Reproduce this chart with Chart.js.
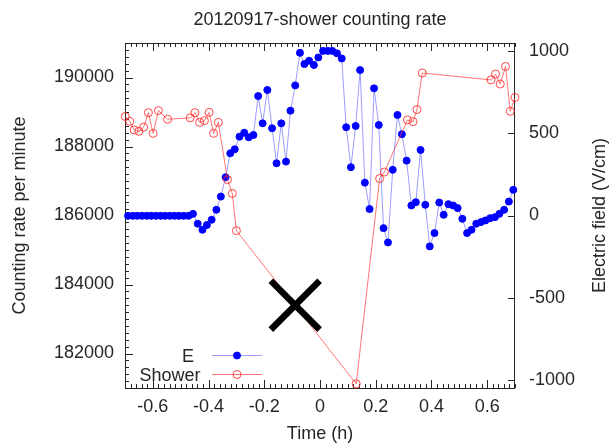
<!DOCTYPE html>
<html>
<head>
<meta charset="utf-8">
<script src="https://cdn.jsdelivr.net/npm/chart.js@4/dist/chart.umd.min.js"></script>
<style>
  html, body { margin: 0; padding: 0; background: #fff; }
  #wrap { width: 612px; height: 444px; }
</style>
</head>
<body>
<div id="wrap"><canvas id="chart" width="612" height="444"></canvas></div>
<script>
var chartTitle = "20120917-shower counting rate";
var xTitle = "Time (h)";
var countTitle = "Counting rate per minute";
var fieldTitle = "Electric field (V/cm)";

var xTicks = [-0.6, -0.4, -0.2, 0, 0.2, 0.4, 0.6];
var countTicks = [182000, 184000, 186000, 188000, 190000];
var fieldTicks = [-1000, -500, 0, 500, 1000];

// E: one sample per minute (h), field in V/cm
var eTime = [-0.689, -0.672, -0.656, -0.639, -0.622, -0.606, -0.589, -0.572, -0.556, -0.539,
             -0.522, -0.506, -0.489, -0.472, -0.456, -0.439, -0.422, -0.406, -0.389, -0.372,
             -0.356, -0.339, -0.322, -0.306, -0.289, -0.272, -0.256, -0.239, -0.222, -0.206,
             -0.189, -0.172, -0.156, -0.139, -0.122, -0.106, -0.089, -0.072, -0.056, -0.039,
             -0.022, -0.006, 0.011, 0.028, 0.044, 0.061, 0.078, 0.094, 0.111, 0.128,
             0.144, 0.161, 0.178, 0.194, 0.211, 0.228, 0.244, 0.261, 0.278, 0.294,
             0.311, 0.328, 0.344, 0.361, 0.378, 0.394, 0.411, 0.428, 0.444, 0.461,
             0.478, 0.494, 0.511, 0.528, 0.544, 0.561, 0.578, 0.594, 0.611, 0.628,
             0.644, 0.661, 0.678, 0.694];
var eField = [-2, -2, -2, -2, -2, -2, -2, -2, -2, -2,
              -2, -2, -2, -2, 10, -50, -87, -58, -26, 35,
              115, 233, 379, 403, 480, 504, 476, 490, 727, 561,
              764, 531, 318, 561, 328, 638, 792, 990, 922, 942,
              916, 962, 1002, 1002, 1002, 987, 956, 537, 294, 545,
              885, 200, 39, 774, 551, -77, -164, 278, 612, 495,
              334, 61, 81, 399, 65, -188, -107, 79, 4, 69,
              61, 45, -20, -107, -87, -50, -40, -30, -16, -10,
              10, 35, 85, 156];

// Shower counting rate per minute
var showerTime = [-0.699, -0.683, -0.667, -0.650, -0.633, -0.616, -0.599, -0.580, -0.547, -0.466,
                  -0.449, -0.432, -0.415, -0.398, -0.382, -0.365, -0.332, -0.315, -0.300, 0.130,
                  0.214, 0.231, 0.314, 0.334, 0.348, 0.367, 0.614, 0.630, 0.647, 0.666,
                  0.683, 0.700];
var showerCount = [188870, 188730, 188480, 188440, 188560, 188980, 188380, 189040, 188790, 188830,
                   188980, 188700, 188750, 188990, 188380, 188700, 187040, 186640, 185560, 181120,
                   187070, 187260, 188770, 188720, 189070, 190130, 189930, 190100, 189810, 190320,
                   189020, 189420];

// big black cross on the plot
var markTime = [-0.089];
var markCount = [183400];

var FONT = "'Liberation Sans', Arial, Helvetica, sans-serif";
var INK = "#262626";

function points(xs, ys) {
    return xs.map(function (x, i) { return { x: x, y: ys[i] }; });
}

function fixTicks(values) {
    return function (scale) {
        scale.ticks = values.map(function (v) { return { value: v }; });
    };
}

var framePlugin = {
    id: "frame",
    beforeDatasetsDraw: function (chart) {
        var ctx = chart.ctx, a = chart.chartArea;
        var sx = chart.scales.x, sl = chart.scales.count, sr = chart.scales.field;
        ctx.save();
        ctx.strokeStyle = INK;
        ctx.lineWidth = 1;
        ctx.beginPath();
        var k, p, len;
        for (k = -35; k <= 35; k++) {
            p = Math.round(sx.getPixelForValue(k / 50)) + 0.5;
            len = (k % 10 === 0) ? 8 : 4;
            ctx.moveTo(p, a.bottom); ctx.lineTo(p, a.bottom - len);
            ctx.moveTo(p, a.top); ctx.lineTo(p, a.top + len);
        }
        for (k = 181000; k <= 191000; k += 200) {
            p = Math.round(sl.getPixelForValue(k)) + 0.5;
            len = (k % 2000 === 0) ? 8 : 4;
            ctx.moveTo(a.left, p); ctx.lineTo(a.left + len, p);
        }
        fieldTicks.forEach(function (v) {
            p = Math.round(sr.getPixelForValue(v)) + 0.5;
            ctx.moveTo(a.right, p); ctx.lineTo(a.right - 7, p);
        });
        ctx.stroke();
        ctx.strokeRect(a.left + 0.5, a.top + 0.5, a.right - a.left - 1, a.bottom - a.top);
        ctx.restore();
    },
    afterDatasetsDraw: function (chart) {
        var ctx = chart.ctx, a = chart.chartArea;
        var ds = chart.data.datasets;
        ctx.save();
        ctx.fillStyle = INK;
        ctx.font = "18px " + FONT;
        ctx.textBaseline = "alphabetic";

        ctx.textAlign = "center";
        ctx.fillText(chartTitle, (a.left + a.right) / 2, 25);
        ctx.fillText(xTitle, (a.left + a.right) / 2, 439);

        ctx.save();
        ctx.translate(24.5, (a.top + a.bottom) / 2);
        ctx.rotate(-Math.PI / 2);
        ctx.fillText(countTitle, 0, 0);
        ctx.restore();

        ctx.save();
        ctx.translate(604.5, (a.top + a.bottom) / 2);
        ctx.rotate(-Math.PI / 2);
        ctx.fillText(fieldTitle, 0, 0);
        ctx.restore();

        // key, bottom left inside the frame
        ctx.textAlign = "right";
        ctx.fillText("E", 194, 361.5);
        ctx.fillText("Shower", 200.5, 380.5);

        var rows = [[ds[1], 355], [ds[0], 374]];
        rows.forEach(function (r) {
            var d = r[0], y = r[1] + 0.5;
            ctx.strokeStyle = d.borderColor;
            ctx.lineWidth = d.borderWidth;
            ctx.beginPath();
            ctx.moveTo(212, y); ctx.lineTo(262, y);
            ctx.stroke();
            ctx.beginPath();
            ctx.arc(237, y, d.pointRadius, 0, Math.PI * 2);
            ctx.fillStyle = d.pointBackgroundColor;
            ctx.fill();
            ctx.strokeStyle = d.pointBorderColor;
            ctx.lineWidth = d.pointBorderWidth;
            ctx.stroke();
        });
        ctx.restore();
    }
};

new Chart(document.getElementById("chart"), {
    type: "scatter",
    data: {
        datasets: [
            {
                label: "Shower",
                data: points(showerTime, showerCount),
                yAxisID: "count",
                showLine: true,
                borderColor: "rgba(255,60,60,0.7)",
                borderWidth: 1,
                pointRadius: 4,
                pointBackgroundColor: "rgba(255,255,255,0)",
                pointBorderColor: "rgba(255,40,40,0.85)",
                pointBorderWidth: 1,
                clip: false,
                order: 1
            },
            {
                label: "E",
                data: points(eTime, eField),
                yAxisID: "field",
                showLine: true,
                borderColor: "rgba(90,90,255,0.6)",
                borderWidth: 1,
                pointRadius: 3.5,
                pointBackgroundColor: "#0000ff",
                pointBorderColor: "#0000ff",
                pointBorderWidth: 1,
                clip: false,
                order: 2
            },
            {
                label: "mark",
                data: points(markTime, markCount),
                yAxisID: "count",
                showLine: false,
                pointStyle: "crossRot",
                pointRadius: 34.5,
                pointBorderColor: "#000",
                pointBorderWidth: 6.5,
                clip: false,
                order: 0
            }
        ]
    },
    options: {
        responsive: false,
        animation: false,
        devicePixelRatio: 1,
        events: [],
        layout: { padding: { top: 43, left: 0, right: 0, bottom: 0 } },
        plugins: {
            legend: { display: false },
            title: { display: false },
            tooltip: { enabled: false }
        },
        scales: {
            x: {
                type: "linear",
                position: "bottom",
                min: -0.7,
                max: 0.7,
                afterBuildTicks: fixTicks(xTicks),
                afterFit: function (s) { s.height = 56; },
                grid: { display: false, drawTicks: false },
                border: { display: false },
                ticks: {
                    font: { family: FONT, size: 18 },
                    color: INK,
                    padding: 8,
                    maxRotation: 0,
                    autoSkip: false,
                    callback: function (v) { return String(v); }
                }
            },
            count: {
                type: "linear",
                position: "left",
                min: 181000,
                max: 191000,
                afterBuildTicks: fixTicks(countTicks),
                afterFit: function (s) { s.width = 125; },
                grid: { display: false, drawTicks: false },
                border: { display: false },
                ticks: {
                    font: { family: FONT, size: 18 },
                    color: INK,
                    padding: 11,
                    callback: function (v) { return String(v); }
                }
            },
            field: {
                type: "linear",
                position: "right",
                min: -1050,
                max: 1050,
                afterBuildTicks: fixTicks(fieldTicks),
                afterFit: function (s) { s.width = 97; },
                grid: { display: false, drawTicks: false },
                border: { display: false },
                ticks: {
                    font: { family: FONT, size: 18 },
                    color: INK,
                    padding: 14,
                    callback: function (v) { return String(v); }
                }
            }
        }
    },
    plugins: [framePlugin]
});
</script>
</body>
</html>
